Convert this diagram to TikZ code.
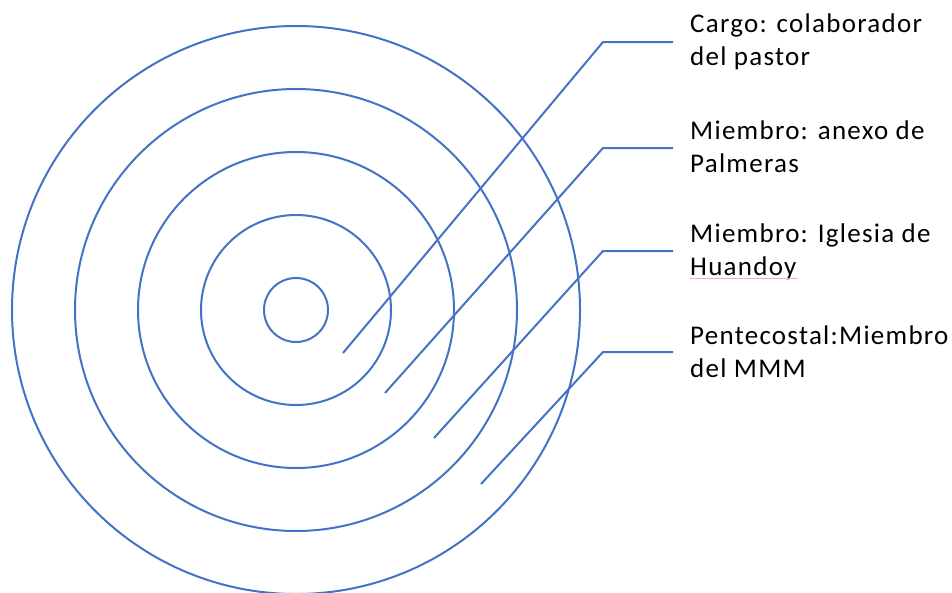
\documentclass[tikz,border=0pt]{standalone}
\usepackage{fontspec}
\setmainfont{Carlito}[LetterSpace=4.7]
\usepackage{xcolor}
\usepackage{tikz}
\usetikzlibrary{positioning, calc}
\definecolor{ringblue}{HTML}{4472C4}

\begin{document}
\begin{tikzpicture}[x=1pt, y=-1pt,
	ring/.style={draw=ringblue, line width=2pt, circle, inner sep=0pt},
	leader/.style={draw=ringblue, line width=2pt},
	tag/.style={anchor=base west, align=left, inner sep=0pt, font=\fontsize{27}{33}\selectfont}]
	\useasboundingbox (0,0) rectangle (952,592);
	% Rings
	\coordinate (ctr) at (296,310);
	\node[ring, minimum size=64pt] (core) at (ctr) {};
	\node[ring, minimum size=190pt] (ring2) at (ctr) {};
	\node[ring, minimum size=316pt] (ring3) at (ctr) {};
	\node[ring, minimum size=442pt] (ring4) at (ctr) {};
	\node[ring, minimum size=568pt] (ring5) at (ctr) {};
	
	% Leader ends and bends
	\coordinate (p1) at (343,353);
	\coordinate (p2) at (385,393);
	\coordinate (p3) at (434,438);
	\coordinate (p4) at (481,484);
	\coordinate (k1) at (603,42);
	\coordinate (k2) at (603,148);
	\coordinate (k3) at (603,251);
	\coordinate (k4) at (603,352);
	\coordinate (e1) at (673,42);
	\coordinate (e2) at (673,148);
	\coordinate (e3) at (673,251);
	\coordinate (e4) at (673,352);
	
	\draw[leader] (p1) -- (k1) -- (e1);
	\draw[leader] (p2) -- (k2) -- (e2);
	\draw[leader] (p3) -- (k3) -- (e3);
	\draw[leader] (p4) -- (k4) -- (e4);
	
	% Labels (base = last line)
	\node[tag] (cargo) at (690,65) {Cargo: colaborador\\del pastor};
	\node[tag] (anexo) at (690,172) {Miembro: anexo de\\Palmeras};
	\node[tag] (iglesia) at (690,275) {Miembro: Iglesia de\\Huandoy};
	\node[tag] (pente) at (690,377) {Pentecostal:Miembro\\del MMM};
	\draw[red!35, line width=0.7pt] (690,278) -- (798,278);
\end{tikzpicture}
\end{document}
